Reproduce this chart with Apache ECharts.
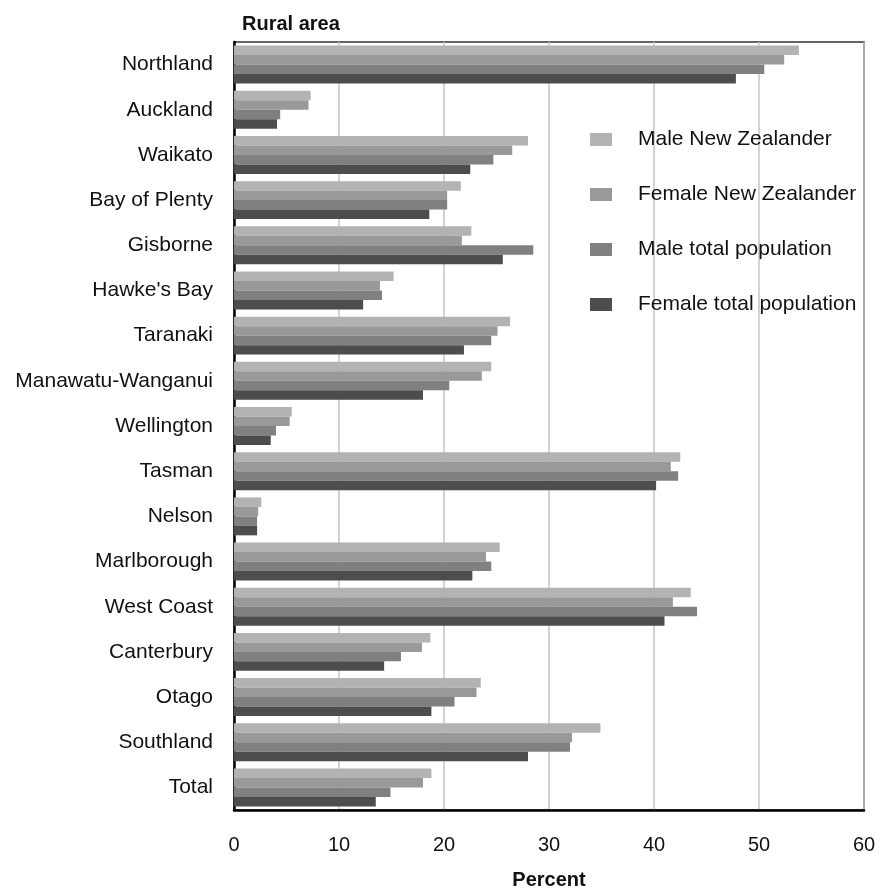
<!DOCTYPE html>
<html>
<head>
<meta charset="utf-8">
<script src="https://cdn.jsdelivr.net/npm/echarts@6/dist/echarts.min.js"></script>
<style>html,body{margin:0;padding:0;background:#fff}#c{width:885px;height:895px}</style>
</head>
<body>
<div id="c"></div>
<script>
const categories = ["Northland","Auckland","Waikato","Bay of Plenty","Gisborne","Hawke's Bay","Taranaki","Manawatu-Wanganui","Wellington","Tasman","Nelson","Marlborough","West Coast","Canterbury","Otago","Southland","Total"];
const seriesNames = ["Male New Zealander","Female New Zealander","Male total population","Female total population"];
const maleNZ =      [53.8, 7.3, 28.0, 21.6, 22.6, 15.2, 26.3, 24.5, 5.5, 42.5, 2.6, 25.3, 43.5, 18.7, 23.5, 34.9, 18.8];
const femaleNZ =    [52.4, 7.1, 26.5, 20.3, 21.7, 13.9, 25.1, 23.6, 5.3, 41.6, 2.3, 24.0, 41.8, 17.9, 23.1, 32.2, 18.0];
const maleTotal =   [50.5, 4.4, 24.7, 20.3, 28.5, 14.1, 24.5, 20.5, 4.0, 42.3, 2.2, 24.5, 44.1, 15.9, 21.0, 32.0, 14.9];
const femaleTotal = [47.8, 4.1, 22.5, 18.6, 25.6, 12.3, 21.9, 18.0, 3.5, 40.2, 2.2, 22.7, 41.0, 14.3, 18.8, 28.0, 13.5];
const xTicks = [0,10,20,30,40,50,60];
const colors = ["#b3b3b3","#999999","#808080","#4d4d4d"];
const values = [maleNZ, femaleNZ, maleTotal, femaleTotal];

const chart = echarts.init(document.getElementById('c'));
const font = "Liberation Sans, Arial, sans-serif";
chart.setOption({
  animation: false,
  textStyle: {fontFamily: font},
  title: {text: "Rural area", left: 237, top: 9, textStyle: {fontSize: 20, fontWeight: "bold", color: "#111", fontFamily: font}},
  grid: {left: 234, right: 21, top: 42, bottom: 82, show: true, borderColor: "#333", borderWidth: 1.5, containLabel: false},
  legend: {
    orient: "vertical", left: 585, top: 124, itemGap: 34, itemWidth: 22, itemHeight: 13,
    icon: "rect", data: seriesNames,
    textStyle: {fontSize: 21, color: "#111", fontFamily: font, padding: [0,0,0,21]}
  },
  xAxis: {
    type: "value", min: 0, max: 60, interval: 10,
    name: "Percent", nameLocation: "middle", nameGap: 60,
    nameTextStyle: {fontSize: 20, fontWeight: "bold", color: "#111", fontFamily: font},
    axisLine: {show: true, lineStyle: {color: "#000", width: 2.5}},
    axisTick: {show: false},
    axisLabel: {fontSize: 20, color: "#111", margin: 25, fontFamily: font, formatter: v => xTicks.includes(v) ? String(v) : ""},
    splitLine: {show: true, lineStyle: {color: "#c4c4c4", width: 1.5}}
  },
  yAxis: {
    type: "category", data: categories, inverse: true,
    axisLine: {show: true, lineStyle: {color: "#000", width: 2.5}},
    axisTick: {show: false},
    axisLabel: {fontSize: 21, color: "#111", margin: 21, fontFamily: font},
    splitLine: {show: false}
  },
  series: seriesNames.map((n, i) => ({
    name: n, type: "bar", data: values[i],
    itemStyle: {color: colors[i]},
    barGap: "0%", barCategoryGap: "16%"
  }))
});
</script>
</body>
</html>
